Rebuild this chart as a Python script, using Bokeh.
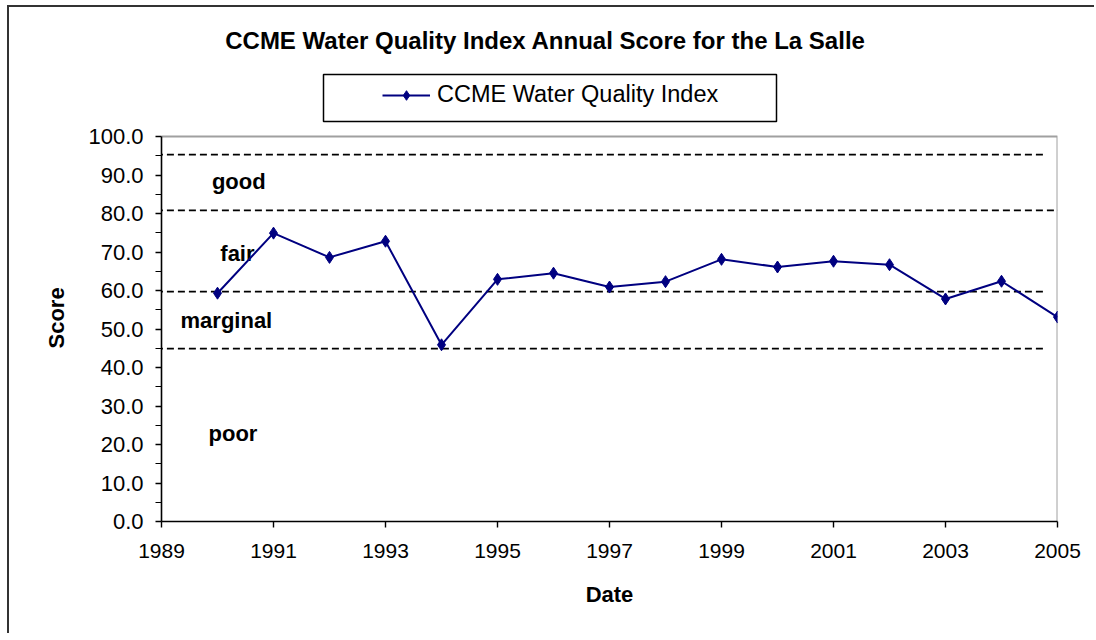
import numpy as np
from bokeh.plotting import figure
from bokeh.models import (Range1d, FixedTicker, PrintfTickFormatter, Legend, LegendItem,
                          BoxAnnotation, Label, Title)
from bokeh.embed import file_html
from bokeh.resources import INLINE
from bokeh.core.properties import value

# ---- data ----
years = [1990, 1991, 1992, 1993, 1994, 1995, 1996, 1997, 1998, 1999, 2000, 2001, 2002, 2003, 2004, 2005]
scores = [59.3, 74.9, 68.6, 72.8, 45.9, 62.9, 64.5, 60.9, 62.3, 68.1, 66.1, 67.6, 66.7, 57.8, 62.4, 53.1]

threshold_levels = [95.3, 80.8, 59.7, 44.9]
threshold_x_start = [1988.9, 1988.9, 1988.9, 1988.9]
threshold_x_end = [2004.8, 2005.1, 2004.8, 2004.8]

class_labels = ["good", "fair", "marginal", "poor"]
class_label_x = [1989.9, 1990.05, 1989.34, 1989.84]
class_label_y = [88.3, 69.7, 52.2, 22.9]

x_ticks = [1989, 1991, 1993, 1995, 1997, 1999, 2001, 2003, 2005]
y_ticks = [0, 10, 20, 30, 40, 50, 60, 70, 80, 90, 100]
y_minor_ticks = [5, 15, 25, 35, 45, 55, 65, 75, 85, 95]

title_text = "CCME Water Quality Index Annual Score for the La Salle"
series_name = "CCME Water Quality Index"
x_label = "Date"
y_label = "Score"

FONT = "Liberation Sans"
NAVY = "#000080"

# ---- layout constants (page pixels) ----
OX, OY = 9, 7                 # canvas origin on the page (after CSS margin + border)
W, H = 1087, 628
PL, PR, PT, PB = 161, 1057, 136, 521   # plot area: left, right, top(=100), bottom(=0)
X0, X1, Y0, Y1 = 1989, 2005, 0, 100
ppx = (PR - PL) / (X1 - X0)
ppy = (PB - PT) / (Y1 - Y0)
frame_top_page = OY
y_top = Y0 + (PB - frame_top_page) / ppy


def px_x(px):
    return X0 + (px - PL) / ppx


def px_y(py):
    return Y0 + (PB - py) / ppy


p = figure(width=W, height=H, output_backend="svg", toolbar_location=None,
           x_range=Range1d(X0, X1), y_range=Range1d(Y0, y_top),
           min_border_left=PL - OX, min_border_right=W - (PR - OX),
           min_border_top=0, min_border_bottom=H - (PB - OY))
p.title = None
p.styles = {"margin-left": "7px", "margin-top": "5px",
            "border-left": "2px solid #333333", "border-top": "2px solid #333333"}

p.background_fill_color = "white"
p.border_fill_color = "white"
p.outline_line_color = None
p.xgrid.visible = False
p.ygrid.visible = False

# plot-area border (gray, top and right)
p.line([X0, X1, X1], [Y1, Y1, Y0], line_color="#a0a0a0", line_width=2)

# thresholds
p.multi_line(xs=[[s, e] for s, e in zip(threshold_x_start, threshold_x_end)],
             ys=[[l, l] for l in threshold_levels],
             line_color="black", line_width=1.6, line_dash="7 4")

# class labels
p.text(x=class_label_x, y=class_label_y, text=class_labels, text_font=value(FONT),
       text_font_style="bold", text_font_size="22px", text_baseline="middle",
       text_align="left", text_color="black")

# series
r_line = p.line(years, scores, line_color=NAVY, line_width=2)
r_pts = p.scatter(years, scores, marker="diamond", size=12,
                  fill_color=NAVY, line_color=NAVY)

# title
p.add_layout(Label(x=px_x(545), y=px_y(40), text=title_text, text_align="center",
                   text_baseline="middle", text_font=FONT, text_font_size="24px",
                   text_font_style="bold", text_color="black"))

# axes
xa = p.xaxis[0]
xa.ticker = FixedTicker(ticks=x_ticks)
xa.axis_label = x_label
ya = p.yaxis[0]
ya.ticker = FixedTicker(ticks=y_ticks, minor_ticks=y_minor_ticks)
ya.formatter = PrintfTickFormatter(format="%.1f")
ya.bounds = (Y0, Y1)
for ax in (xa, ya):
    ax.axis_line_color = "black"
    ax.axis_line_width = 1.6
    ax.major_tick_line_color = "black"
    ax.major_tick_line_width = 1.4
    ax.major_tick_out = 6
    ax.major_tick_in = 0
    ax.minor_tick_line_color = "black"
    ax.minor_tick_line_width = 1.2
    ax.minor_tick_out = 6
    ax.minor_tick_in = 0
    ax.major_label_text_font = FONT
    ax.major_label_text_color = "black"
    ax.axis_label_text_font = FONT
    ax.axis_label_text_font_size = "22px"
    ax.axis_label_text_font_style = "bold"
    ax.axis_label_text_color = "black"
xa.major_label_text_font_size = "21px"
ya.major_label_text_font_size = "22px"
xa.minor_tick_line_color = None
xa.major_label_standoff = 16
xa.axis_label_standoff = 21
ya.major_label_standoff = 12

# y axis title, positioned along the 0-100 part of the axis
p.add_layout(Title(text=y_label, align="left", offset=173, text_font=FONT,
                   text_font_size="22px", text_font_style="bold", text_color="black",
                   standoff=34), "left")

# legend
legend = Legend(items=[LegendItem(label=series_name, renderers=[r_line, r_pts])],
                location=(382 - PL, PB - 108), padding=0, margin=0, border_line_alpha=0,
                background_fill_alpha=0, glyph_width=48, glyph_height=24,
                label_height=24, label_standoff=7, label_text_font=FONT,
                label_text_font_size="23.5px", label_text_color="black")
p.add_layout(legend, "center")

legend_box = BoxAnnotation(left=px_x(323), right=px_x(776), top=px_y(74), bottom=px_y(121),
                           fill_alpha=0, line_color="black", line_width=1.5, line_alpha=1)
p.add_layout(legend_box)

open("out.html", "w").write(file_html(p, INLINE))
